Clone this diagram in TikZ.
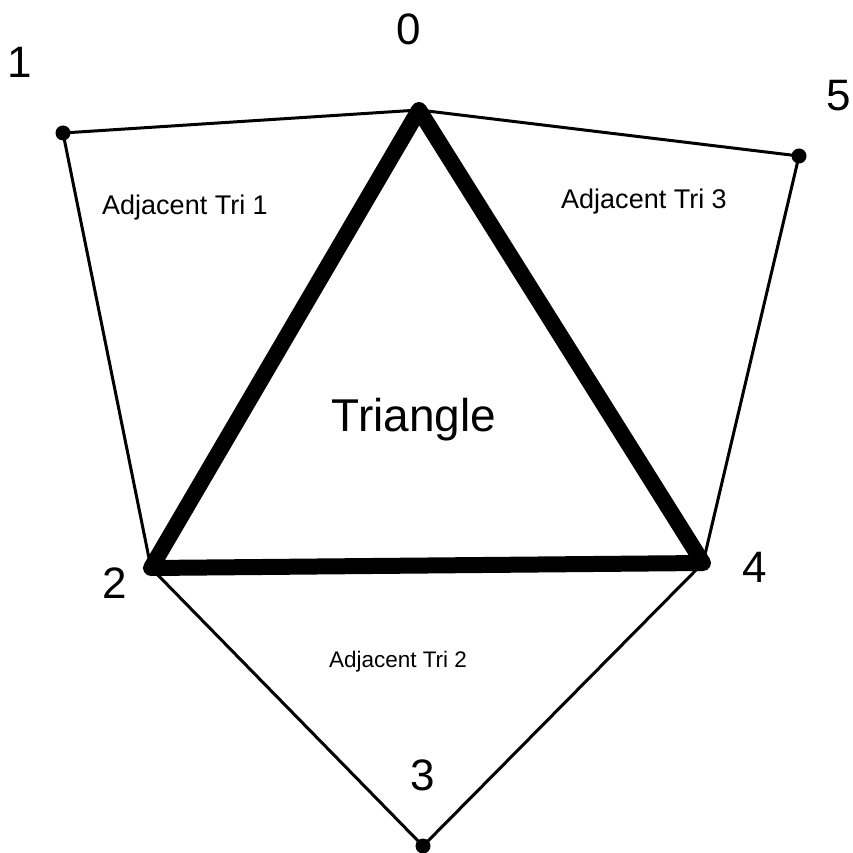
\documentclass[tikz,border=0pt]{standalone}
\usepackage{fontspec}
\setmainfont{Liberation Sans}
\begin{document}
\begin{tikzpicture}[x=1pt,y=-1pt,
  thin edge/.style={line width=3pt},
  thick edge/.style={line width=16pt, line join=round, line cap=round},
  vdot/.style={circle, fill=black, inner sep=0pt, minimum size=15pt},
  vlabel/.style={font=\fontsize{44}{48}\selectfont, inner sep=0pt},
  tri label/.style={font=\fontsize{27}{30}\selectfont, inner sep=0pt}]
\useasboundingbox (0,0) rectangle (852,853);
\coordinate (p0) at (419,110);
\coordinate (p1) at (63,133);
\coordinate (p5) at (799,156);
\coordinate (p2) at (151,568);
\coordinate (p4) at (703,563);
\coordinate (p3) at (423,846);
\draw[thin edge] (p1) -- (p0) -- (p5) -- (p4) -- (p3) -- (p2) -- cycle;
\draw[thick edge] (p0) -- (p2) -- (p4) -- cycle;
\node[vdot] (d0) at (p0) {};
\node[vdot] (d1) at (p1) {};
\node[vdot] (d5) at (p5) {};
\node[vdot] (d3) at (p3) {};
\node[vlabel] (l0) at (409,29) {0};
\node[vlabel] (l1) at (20,62) {1};
\node[vlabel] (l5) at (839,96) {5};
\node[vlabel] (l2) at (115,583) {2};
\node[vlabel] (l4) at (755,567) {4};
\node[vlabel] (l3) at (423,775) {3};
\node[font=\fontsize{46}{50}\selectfont, inner sep=0pt] (tri) at (414,420) {Triangle};
\node[tri label] (a1) at (185,208) {Adjacent Tri 1};
\node[tri label] (a3) at (644,202) {Adjacent Tri 3};
\node[tri label, font=\fontsize{22.5}{26}\selectfont] (a2) at (398,662) {Adjacent Tri 2};
\end{tikzpicture}
\end{document}
